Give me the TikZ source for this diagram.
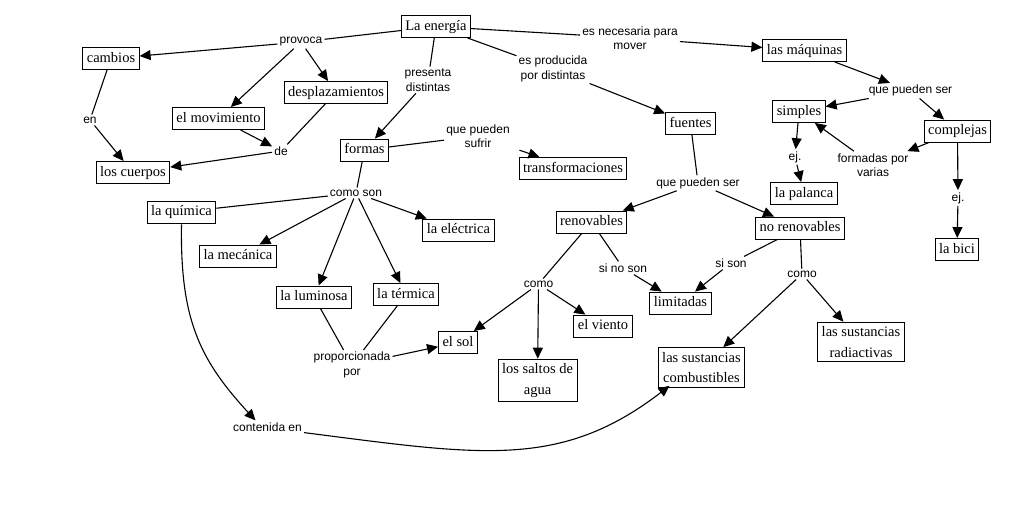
\documentclass[tikz,border=0pt]{standalone}
\usepackage{fontspec}
\setmainfont{Liberation Serif}
\newfontfamily\lblfont{Liberation Sans}
\usetikzlibrary{arrows.meta}
\tikzset{
  conceptbase/.style={draw, line width=0.9pt, inner xsep=4pt, inner ysep=4pt,
    align=center, font=\fontsize{14.5}{20.5}\selectfont},
  concept/.style={conceptbase, text height=10.5pt, text depth=3.5pt},
  concepttwo/.style={conceptbase, inner ysep=4.5pt},
  linklbl/.style={inner sep=2pt, align=center,
    font=\lblfont\fontsize{12}{14.5}\selectfont},
  conn/.style={line width=1.1pt},
  arr/.style={line width=1.1pt, -{Triangle[length=11pt,width=10pt]}},
}
\begin{document}
\begin{tikzpicture}[x=1pt,y=-1pt]
\useasboundingbox (0,0) rectangle (1033,506);
\fill[white] (0,0) rectangle (1033,506);
% concepts
\node[concept] (energia) at (436,26.5) {La energía};
\node[concept] (cambios) at (111,58.5) {cambios};
\node[concept] (desplaz) at (336,92.5) {desplazamientos};
\node[concept] (movim) at (218.5,118.5) {el movimiento};
\node[concept] (cuerpos) at (133,172.5) {los cuerpos};
\node[concept] (formas) at (364.5,150) {formas};
\node[concept] (transf) at (573,168.5) {transformaciones};
\node[concept] (quimica) at (181.5,212) {la química};
\node[concept] (electrica) at (458.5,230) {la eléctrica};
\node[concept] (mecanica) at (238,256) {la mecánica};
\node[concept] (luminosa) at (314,297) {la luminosa};
\node[concept] (termica) at (406,294.5) {la térmica};
\node[concept] (sol) at (458,342.5) {el sol};
\node[concept] (maquinas) at (804.5,50.5) {las máquinas};
\node[concept] (simples) at (799,111.5) {simples};
\node[concept] (complejas) at (957.5,131) {complejas};
\node[concept] (palanca) at (804,193.5) {la palanca};
\node[concept] (bici) at (957,249.5) {la bici};
\node[concept] (fuentes) at (690.5,123.5) {fuentes};
\node[concept] (renovables) at (591.5,222) {renovables};
\node[concept] (norenov) at (800,228) {no renovables};
\node[concept] (limitadas) at (680.5,303) {limitadas};
\node[concepttwo] (saltos) at (537.5,380.5) {los saltos de\\agua};
\node[concept] (viento) at (603,326) {el viento};
\node[concepttwo] (combust) at (701.5,367.5) {las sustancias\\combustibles};
\node[concepttwo] (radiact) at (861,342) {las sustancias\\radiactivas};
% link labels
\node[linklbl] (provoca) at (301,42) {provoca};
\node[linklbl] (en) at (90,120) {en};
\node[linklbl] (de) at (281,151) {de};
\node[linklbl] (presenta) at (428,80) {presenta\\distintas};
\node[linklbl] (sufrir) at (478,136) {que pueden\\sufrir};
\node[linklbl] (comoson) at (356,193) {como son};
\node[linklbl] (proporc) at (352,365) {proporcionada\\por};
\node[linklbl] (contenida) at (267.5,427) {contenida en};
\node[linklbl] (necesaria) at (630,38) {es necesaria para\\mover};
\node[linklbl] (pseM) at (910.5,90.7) {que pueden ser};
\node[linklbl] (ejA) at (795,157) {ej.};
\node[linklbl] (formadas) at (873,165) {formadas por\\varias};
\node[linklbl] (ejB) at (958,198) {ej.};
\node[linklbl] (producida) at (553,69) {es producida\\por distintas};
\node[linklbl] (pseF) at (698,183) {que pueden ser};
\node[linklbl] (sinoson) at (623,268) {si no son};
\node[linklbl] (sison) at (731,263) {si son};
\node[linklbl] (comoA) at (538.5,284) {como};
\node[linklbl] (comoB) at (802,274) {como};
% connectors
\draw[conn] (energia) -- (provoca);
\draw[arr] (provoca) -- (cambios);
\draw[arr] (provoca) -- (desplaz);
\draw[arr] (provoca) -- (movim);
\draw[conn] (cambios) -- (en);
\draw[arr] (en) -- (cuerpos);
\draw[arr] (movim) -- (de);
\draw[conn] (desplaz) -- (de);
\draw[arr] (de) -- (cuerpos);
\draw[conn] (energia) -- (presenta);
\draw[arr] (presenta) -- (formas);
\draw[conn] (formas) -- (sufrir);
\draw[arr, shorten <=8pt] (sufrir) -- (transf);
\draw[conn] (formas) -- (comoson);
\draw[conn] (comoson) -- (quimica);
\draw[arr] (comoson) -- (electrica);
\draw[arr] (comoson) -- (mecanica);
\draw[arr] (comoson) -- (luminosa);
\draw[arr] (comoson) -- (termica);
\draw[conn] (luminosa) -- (proporc);
\draw[conn] (termica) -- (proporc);
\draw[arr] (proporc) -- (sol);
\draw[arr] ([yshift=-1pt]quimica.south) .. controls (180,320) and (200,360) .. ([xshift=-12pt]contenida.north);
\draw[arr] ([yshift=1pt]contenida.south east) .. controls (480,455) and (560,470) .. ([xshift=-32pt,yshift=2pt]combust.south);
\draw[conn] (energia) -- (necesaria);
\draw[arr] (necesaria) -- (maquinas);
\draw[arr] (maquinas) -- (pseM);
\draw[arr] (pseM) -- (simples);
\draw[arr] (pseM) -- (complejas);
\draw[arr] (simples) -- (ejA);
\draw[arr] (ejA) -- (palanca);
\draw[arr] (formadas) -- (simples);
\draw[arr] (complejas) -- (formadas);
\draw[arr] (complejas) -- (ejB);
\draw[arr] (ejB) -- (bici);
\draw[conn] (energia) -- (producida);
\draw[arr] (producida) -- (fuentes);
\draw[conn] (fuentes) -- (pseF);
\draw[arr] (pseF) -- (renovables);
\draw[arr] (pseF) -- (norenov);
\draw[conn] (renovables) -- (sinoson);
\draw[arr] (sinoson) -- (limitadas);
\draw[conn] (norenov) -- (sison);
\draw[arr] (sison) -- (limitadas);
\draw[conn] (norenov) -- (comoB);
\draw[arr] (comoB) -- (combust);
\draw[arr] (comoB) -- (radiact);
\draw[conn] (renovables) -- (comoA);
\draw[arr] (comoA) -- (sol);
\draw[arr] (comoA) -- (saltos);
\draw[arr] (comoA) -- (viento);
\end{tikzpicture}
\end{document}
